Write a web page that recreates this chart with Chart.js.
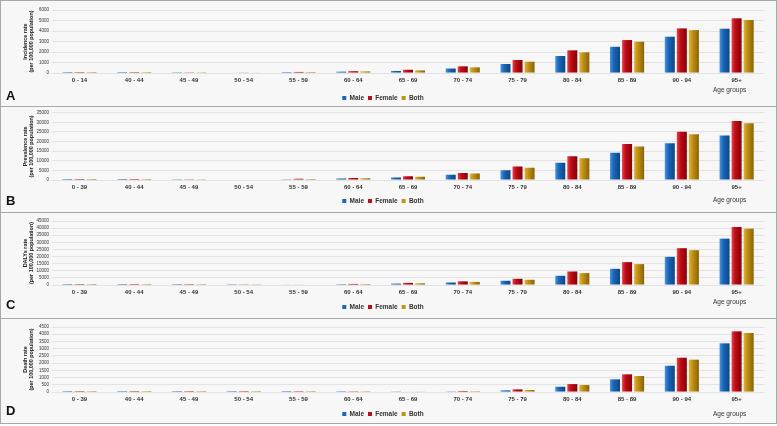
<!doctype html>
<html lang="en">
<head>
<meta charset="utf-8">
<title>Rates by age group</title>
<style>
  *{box-sizing:border-box;margin:0;padding:0}
  html,body{width:777px;height:426px;background:#ffffff;overflow:hidden}
  body{font-family:'Liberation Sans',Arial,sans-serif;position:relative}
  .panel{position:absolute;left:0;width:777px;border:1px solid #a9a9a9;background:#f7f7f7}
  .wrap{position:absolute;left:1px;top:0;width:773px}
  .letter{position:absolute;left:5px;font-size:13px;font-weight:700;line-height:1;color:#111}
  .age{position:absolute;left:712px;font-size:6.5px;line-height:1;color:#333}
</style>
</head>
<body>

<div class="panel" style="top:0;height:107px">
  <div class="wrap" style="height:110.25px"><canvas id="cA"></canvas></div>
  <div class="letter" style="top:88px">A</div>
  <div class="age" style="top:86px">Age groups</div>
</div>
<div class="panel" style="top:106px;height:107px">
  <div class="wrap" style="height:107.25px"><canvas id="cB"></canvas></div>
  <div class="letter" style="top:87px">B</div>
  <div class="age" style="top:90px">Age groups</div>
</div>
<div class="panel" style="top:212px;height:107px">
  <div class="wrap" style="height:107.25px"><canvas id="cC"></canvas></div>
  <div class="letter" style="top:85px">C</div>
  <div class="age" style="top:86px">Age groups</div>
</div>
<div class="panel" style="top:318px;height:106px">
  <div class="wrap" style="height:108.25px"><canvas id="cD"></canvas></div>
  <div class="letter" style="top:85px">D</div>
  <div class="age" style="top:92px">Age groups</div>
</div>

<script src="https://cdn.jsdelivr.net/npm/chart.js"></script>
<script>
// age groups (panel A starts at 0-14, the rest at 0-39)
const agesA = ['0 - 14','40 - 44','45 - 49','50 - 54','55 - 59','60 - 64','65 - 69','70 - 74','75 - 79','80 - 84','85 - 89','90 - 94','95+'];
const ages  = ['0 - 39','40 - 44','45 - 49','50 - 54','55 - 59','60 - 64','65 - 69','70 - 74','75 - 79','80 - 84','85 - 89','90 - 94','95+'];
const seriesNames = ['Male','Female','Both'];

// A: incidence rate per 100,000
const incMale   = [0.5, 5, 20, 50, 90, 130, 200, 430, 860, 1620, 2500, 3460, 4220];
const incFemale = [0.5, 6, 25, 60, 105, 175, 315, 640, 1240, 2160, 3140, 4250, 5210];
const incBoth   = [0.5, 5, 22, 55, 95, 155, 255, 540, 1080, 1970, 2980, 4090, 5050];
// B: prevalence rate per 100,000
const prevMale   = [5, 40, 100, 250, 480, 810, 1320, 2690, 5070, 8930, 14200, 19070, 23130];
const prevFemale = [6, 50, 130, 350, 620, 1100, 2030, 3700, 7100, 12330, 18770, 25160, 30740];
const prevBoth   = [5, 45, 115, 300, 550, 950, 1670, 3350, 6400, 11310, 17400, 23840, 29570];
// C: DALYs rate per 100,000
const dalyMale   = [5, 25, 60, 150, 300, 600, 1000, 1800, 3000, 6500, 11410, 19800, 32610];
const dalyFemale = [6, 30, 70, 200, 400, 800, 1500, 2600, 4400, 9520, 16100, 25890, 40800];
const dalyBoth   = [5, 27, 65, 170, 350, 700, 1250, 2200, 3700, 8400, 14700, 24490, 39610];
// D: death rate per 100,000
const deathMale   = [0.1, 0.5, 1, 2, 5, 10, 22, 50, 115, 370, 880, 1820, 3370];
const deathFemale = [0.1, 0.5, 1, 2, 6, 14, 32, 75, 185, 550, 1225, 2375, 4200];
const deathBoth   = [0.1, 0.5, 1, 2, 5, 12, 27, 62, 140, 485, 1110, 2240, 4085];

// y axis titles and ranges
const yTitles = [
  ['Incidence rate','(per 100,000 population)'],
  ['Prevalence rate','(per 100,000 population)'],
  ["DALYs rate",'(per 100,000 population)'],
  ['Death rate','(per 100,000 population)']
];
const yMax  = [6000, 35000, 45000, 4500];
const yStep = [1000, 5000, 5000, 500];

// colour stops: light edge, body, dark edge
const shades = [
  ['#4b95dc','#1a67b8','#0c4686'],
  ['#e5434a','#c00d17','#850008'],
  ['#dfb23c','#c39213','#87620a']
];
const solid = ['#1a67b8','#c00d17','#c39213'];

// per-panel layout tweaks: top padding, x axis height
const lay = [
  {top:9, xh:17.75},
  {top:4, xh:13.75},
  {top:8, xh:14.75},
  {top:8, xh:14.75}
];

const CAT = 0.66, BAR = 0.83;
const FONT = "'Liberation Sans',Arial,sans-serif";

function barFill(k){
  return c => {
    const ch = c.chart, xs = ch.scales.x;
    if(!xs || c.type !== 'data' || !isFinite(xs.width)) return solid[k];
    const n = ch.data.labels.length;
    const cw = xs.width / n, slot = cw * CAT / 3, w = slot * BAR;
    const cx = xs.getPixelForValue(c.dataIndex);
    const left = cx - cw*CAT/2 + k*slot + (slot - w)/2;
    const g = ch.ctx.createLinearGradient(left, 0, left + w, 0);
    g.addColorStop(0, shades[k][0]);
    g.addColorStop(0.35, shades[k][1]);
    g.addColorStop(1, shades[k][2]);
    return g;
  };
}

function make(id, i, labels, m, f, b){
  const L = lay[i];
  return new Chart(document.getElementById(id), {
    type:'bar',
    data:{
      labels:labels,
      datasets:[m,f,b].map((d,k)=>({
        label:seriesNames[k], data:d,
        backgroundColor:barFill(k), borderWidth:0,
        categoryPercentage:CAT, barPercentage:BAR
      }))
    },
    options:{
      animation:false, responsive:true, maintainAspectRatio:false,
      layout:{padding:{top:L.top, right:11, bottom:0, left:0}},
      plugins:{
        tooltip:{enabled:false},
        legend:{
          position:'bottom',
          labels:{
            boxWidth:4, boxHeight:4, padding:4,
            font:{family:FONT, size:6.5, weight:'bold'},
            color:'#333',
            generateLabels: ch => seriesNames.map((s,k)=>({
              text:s, fillStyle:solid[k], strokeStyle:solid[k], lineWidth:0,
              fontColor:'#333', datasetIndex:k, hidden:false
            }))
          }
        }
      },
      scales:{
        x:{
          grid:{display:false, drawTicks:false}, border:{display:false},
          ticks:{padding:4, color:'#333', maxRotation:0, autoSkip:false,
            font:{family:FONT, size:6, weight:'bold'}},
          afterFit: s => { s.height = L.xh; }
        },
        y:{
          min:0, max:yMax[i],
          grid:{color:'#e3e3e3', lineWidth:1, drawTicks:false}, border:{display:false},
          ticks:{stepSize:yStep[i], padding:3, color:'#333', autoSkip:false,
            callback: v => String(v),
            font:{family:FONT, size:4.5}},
          title:{display:true, text:yTitles[i], color:'#222', padding:{top:21,bottom:0},
            font:{family:FONT, size:5.4, weight:'bold', lineHeight:1.05}},
          afterFit: s => { s.width = 50; }
        }
      }
    }
  });
}

make('cA', 0, agesA, incMale, incFemale, incBoth);
make('cB', 1, ages, prevMale, prevFemale, prevBoth);
make('cC', 2, ages, dalyMale, dalyFemale, dalyBoth);
make('cD', 3, ages, deathMale, deathFemale, deathBoth);
</script>
</body>
</html>
